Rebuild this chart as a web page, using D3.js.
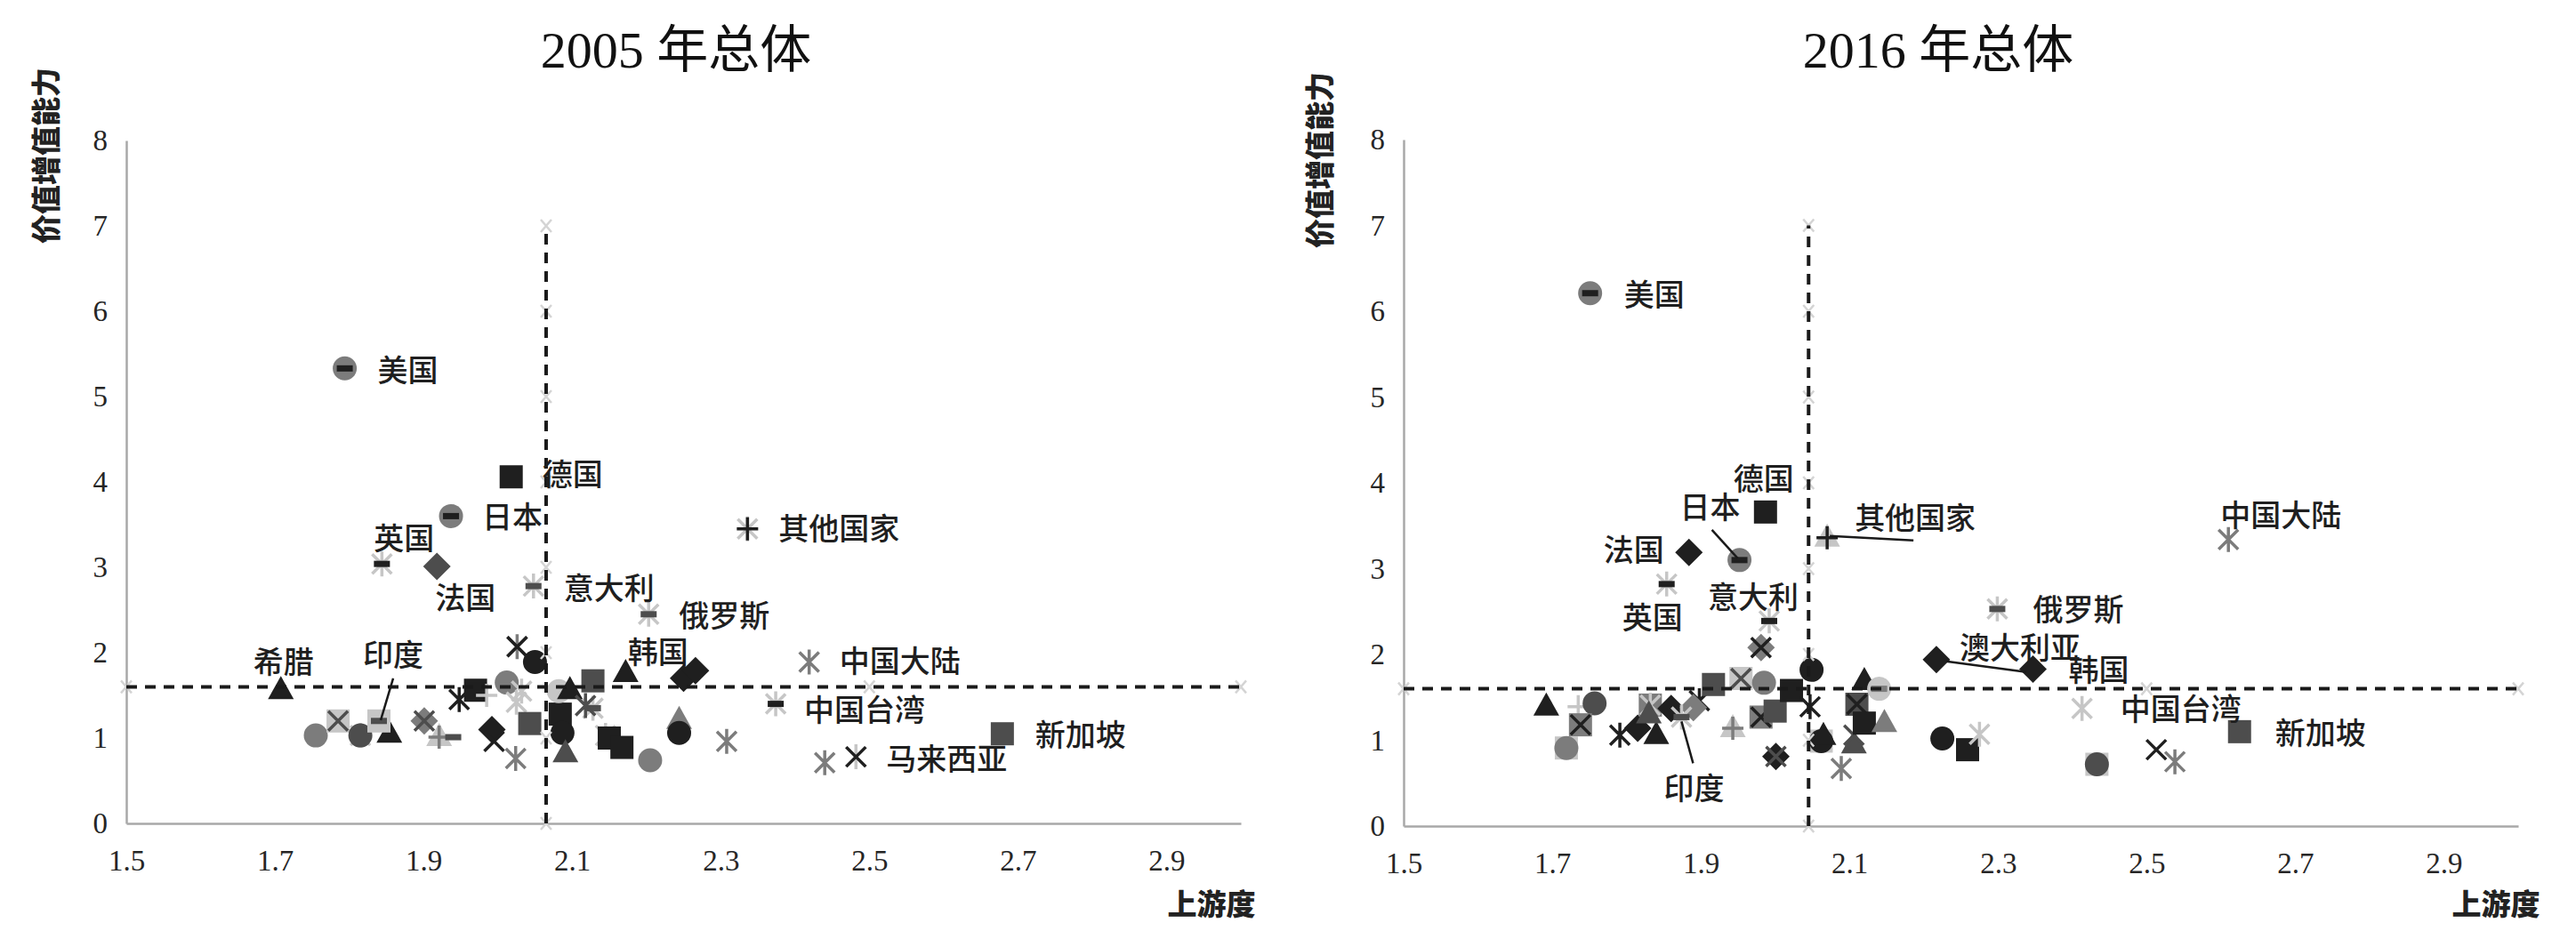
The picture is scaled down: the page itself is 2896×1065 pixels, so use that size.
<!DOCTYPE html>
<html>
<head>
<meta charset="utf-8">
<script src="https://cdn.jsdelivr.net/npm/d3@7"></script>
<style>
body{margin:0;background:#fff}
</style>
</head>
<body>
<script>
// axis ticks
var xTicks = [1.5, 1.7, 1.9, 2.1, 2.3, 2.5, 2.7, 2.9];
var yTicks = [0, 1, 2, 3, 4, 5, 6, 7, 8];

// 2005 - labelled economies
var names05 = ["美国","德国","日本","英国","法国","意大利","其他国家","俄罗斯","韩国","中国大陆","中国台湾","新加坡","马来西亚","希腊","印度"];
var up05 = [1.794, 2.018, 1.937, 1.844, 1.918, 2.048, 2.336, 2.203, 2.266, 2.419, 2.374, 2.679, 2.482, 1.708, 1.840];
var va05 = [5.33, 4.06, 3.60, 3.04, 3.01, 2.78, 3.45, 2.45, 1.79, 1.89, 1.40, 1.05, 0.78, 1.56, 1.20];
var mk05 = ["oM -K","sK","oM -K","*L -K","dD","*L -D","*L +K","*L -D","dK","*M","*L -K","sD","*L xK","^K","sL -D"];
// 2005 - other economies
var upO05 = [1.755,1.785,1.815,1.854,1.901,1.921,1.940,1.948,1.970,1.985,2.012,2.026,2.050,2.025,2.032,1.992,1.995,2.024,2.043,2.084,2.087,2.091,2.082,2.097,2.128,2.128,2.118,2.145,2.150,2.167,2.172,2.205,2.244,2.244,2.250,2.308,2.440];
var vaO05 = [1.03,1.20,1.03,1.05,1.20,1.01,1.01,1.45,1.56,1.50,1.65,2.07,1.89,1.42,1.55,1.10,0.96,0.76,1.17,1.28,1.06,0.82,1.55,1.56,1.67,1.35,1.38,1.03,1.00,0.89,1.76,0.74,1.21,1.06,1.70,0.96,0.71];
var mkO05 = ["oM","sL xD","*L oD","^K","dM xD","^L +M","-D","*K","sK","+L","oM","*M xK","oK","*L","*L","dK","xK","*M","sD","sK","oK","^D","oL","^K","sD","*L -D","*D","*L","sK","sK","^K","oM","^M","oK","dK","*M","*M"];

// 2016 - labelled economies
var names16 = ["美国","德国","日本","法国","英国","意大利","其他国家","中国大陆","俄罗斯","澳大利亚","韩国","中国台湾","新加坡","印度"];
var up16 = [1.751, 1.987, 1.952, 1.884, 1.854, 1.992, 2.070, 2.610, 2.299, 2.217, 2.347, 2.413, 2.625, 1.874];
var va16 = [6.21, 3.66, 3.10, 3.19, 2.82, 2.39, 3.36, 3.34, 2.53, 1.94, 1.83, 1.37, 1.10, 1.27];
var mk16 = ["oM -K","sK","oM -K","dK","*L -K","*L -K","^L +K","*M","*L -D","dK","dK","*L","sD","*L -D"];
// 2016 - other economies
var upO16 = [1.692,1.735,1.757,1.738,1.719,1.791,1.815,1.840,1.832,1.830,1.860,1.898,1.890,1.917,1.954,1.985,1.981,1.943,1.981,2.000,2.001,2.022,2.049,2.047,2.062,2.065,2.089,2.106,2.106,2.110,2.120,2.140,2.120,2.147,2.225,2.259,2.275,2.433,2.513,2.538];
var vaO16 = [1.39,1.39,1.43,1.18,0.91,1.06,1.14,1.06,1.41,1.30,1.37,1.46,1.38,1.65,1.72,1.67,2.08,1.14,1.27,1.34,0.81,1.58,1.82,1.39,0.99,1.05,0.67,0.95,1.06,1.42,1.69,1.60,1.20,1.20,1.02,0.89,1.07,0.72,0.89,0.75];
var mkO16 = ["^K","+L","oD","sM xK","sL oM","*K","dK","^K","sM *L","^D","dK","*K","dM","sD","sL xD","oM","dM xK","^L +M","sM xK","sD","dK xD","sK","oK","*K","sL oK","^K","*M","^D","xD","sD xK","^K","oL -M","sK","^M","oK","sK","*L","sL oD","xK","*M"];

// label offsets (px from the point) and leader lines
var lab05 = [[71,0],[69,-5],[69,-1],[25,-31],[32,33],[85,0],[103,-2],[85,0],[-42,-23],[102,-3],[100,5],[88,-1],[102,0],[3,-34],[16,-76]];
var lead05 = {"印度": [[16,-48],[2,-1]]};
var lab16 = [[72,0],[-2,-39],[-33,-61],[-62,-5],[-16,36],[-18,-29],[99,-24],[59,-29],[91,-1],[94,-15],[74,-1],[111,-1],[91,0],[14,78]];
var lead16 = {"日本": [[-31,-34],[-2,-2]], "其他国家": [[3,-2],[97,3]], "澳大利亚": [[11,2],[101,14]], "印度": [[0,5],[13,52]]};

var tone = {K: "#1f1f1f", D: "#4d4d4d", M: "#7c7c7c", L: "#c6c6c6"};

var W = 2896, H = 1065;
var svg = d3.select("body").append("svg")
  .attr("width", W).attr("height", H)
  .style("background", "#fff");

function markPath(shape) {
  var p = d3.path();
  if (shape == "o") { p.arc(0, 0, 13.5, 0, 2 * Math.PI); }
  else if (shape == "s") { p.rect(-13, -13, 26, 26); }
  else if (shape == "^") { p.moveTo(0, -16); p.lineTo(14.5, 10); p.lineTo(-14.5, 10); p.closePath(); }
  else if (shape == "d") { p.moveTo(0, -15.5); p.lineTo(15.5, 0); p.lineTo(0, 15.5); p.lineTo(-15.5, 0); p.closePath(); }
  else if (shape == "-") { p.rect(-9, -3.5, 18, 7); }
  else if (shape == "x") { p.moveTo(-11, -11); p.lineTo(11, 11); p.moveTo(11, -11); p.lineTo(-11, 11); }
  else if (shape == "*") { p.moveTo(-11, -11); p.lineTo(11, 11); p.moveTo(11, -11); p.lineTo(-11, 11); p.moveTo(0, -14); p.lineTo(0, 14); }
  else if (shape == "+") { p.moveTo(-12, 0); p.lineTo(12, 0); p.moveTo(0, -13); p.lineTo(0, 13); }
  return p.toString();
}

function drawMarks(g, ux, vy, mks, xs, ys) {
  ux.forEach(function(d, i) {
    mks[i].split(" ").forEach(function(code) {
      var sh = code[0], col = tone[code[1]];
      var stroked = (sh == "x" || sh == "*" || sh == "+");
      g.append("path")
        .attr("d", markPath(sh))
        .attr("transform", "translate(" + xs(d) + "," + ys(vy[i]) + ")")
        .attr("fill", stroked ? "none" : col)
        .attr("stroke", stroked ? col : "none")
        .attr("stroke-width", 3.5);
    });
  });
}

function chart(c) {
  var g = svg.append("g");
  var xs = d3.scaleLinear().domain([1.5, 3]).range([c.x0, c.x1]);
  var ys = d3.scaleLinear().domain([0, 8]).range([c.y0, c.y1]);

  var ax = g.append("g").attr("transform", "translate(0," + c.y0 + ")")
    .call(d3.axisBottom(xs).tickValues(xTicks).tickSize(0).tickSizeOuter(0).tickPadding(30).tickFormat(d3.format(".1f")));
  var ay = g.append("g").attr("transform", "translate(" + c.x0 + ",0)")
    .call(d3.axisLeft(ys).tickValues(yTicks).tickSize(0).tickSizeOuter(0).tickPadding(21).tickFormat(d3.format("d")));
  [ax, ay].forEach(function(a) {
    a.select(".domain").attr("stroke", "#a8a8a8").attr("stroke-width", 2.5);
    a.selectAll("text").attr("font-family", "Liberation Serif").attr("font-size", 33).attr("fill", "#262626");
  });

  // title and axis titles
  g.append("text").attr("x", c.tx).attr("y", 56)
    .attr("text-anchor", "middle").attr("dominant-baseline", "central")
    .attr("font-family", "Liberation Serif, Noto Sans CJK SC").attr("font-size", 58).attr("fill", "#111")
    .text(c.title);
  g.append("text").attr("transform", "translate(" + c.yl + "," + c.ylY + ") rotate(-90)")
    .attr("text-anchor", "middle").attr("dominant-baseline", "central")
    .attr("font-family", "Noto Sans CJK SC").attr("font-weight", 900).attr("font-size", 33).attr("fill", "#222")
    .text("价值增值能力");
  g.append("text").attr("x", c.xl).attr("y", c.xlY)
    .attr("text-anchor", "middle").attr("dominant-baseline", "central")
    .attr("font-family", "Noto Sans CJK SC").attr("font-weight", 900).attr("font-size", 33).attr("fill", "#222")
    .text("上游度");

  drawMarks(g, c.ox, c.oy, c.omk, xs, ys);
  drawMarks(g, c.ux, c.vy, c.mk, xs, ys);

  // faint helper points of the dashed reference lines
  var helpV = [0, 1, 2, 3, 4, 5, 6, 7], helpH = [1.5, 2.5, 3.0];
  helpV.forEach(function(v) {
    g.append("path").attr("d", "M-6,-7L0,0L-6,7M6,-7L0,0L6,7")
      .attr("transform", "translate(" + xs(c.vx) + "," + ys(v) + ")")
      .attr("fill", "none").attr("stroke", "#d4d4d4").attr("stroke-width", 2.5);
  });
  helpH.forEach(function(v) {
    g.append("path").attr("d", "M-6,-7L0,0L-6,7M6,-7L0,0L6,7")
      .attr("transform", "translate(" + xs(v) + "," + ys(c.hy) + ")")
      .attr("fill", "none").attr("stroke", "#d4d4d4").attr("stroke-width", 2.5);
  });

  // dashed reference lines
  g.append("line").attr("x1", xs(c.vx)).attr("x2", xs(c.vx)).attr("y1", ys(0)).attr("y2", ys(7))
    .attr("stroke", "#1a1a1a").attr("stroke-width", 4).attr("stroke-dasharray", "12,9");
  g.append("line").attr("x1", xs(1.5)).attr("x2", xs(3)).attr("y1", ys(c.hy)).attr("y2", ys(c.hy))
    .attr("stroke", "#1a1a1a").attr("stroke-width", 4).attr("stroke-dasharray", "12,9");

  // leader lines and labels
  c.names.forEach(function(n, i) {
    var px = xs(c.ux[i]), py = ys(c.vy[i]);
    if (c.lead[n]) {
      var l = c.lead[n];
      g.append("line").attr("x1", px + l[0][0]).attr("y1", py + l[0][1])
        .attr("x2", px + l[1][0]).attr("y2", py + l[1][1])
        .attr("stroke", "#1a1a1a").attr("stroke-width", 2.5);
    }
    g.append("text").attr("x", px + c.lab[i][0]).attr("y", py + c.lab[i][1])
      .attr("text-anchor", "middle").attr("dominant-baseline", "central")
      .attr("font-family", "Noto Sans CJK SC").attr("font-weight", 500).attr("font-size", 34).attr("fill", "#1f1f1f")
      .text(n);
  });
}

chart({x0: 142, x1: 1395, y0: 926, y1: 158, vx: 2.065, hy: 1.6,
  title: "2005 年总体", tx: 760, yl: 50, ylY: 175, xl: 1362, xlY: 1015,
  names: names05, ux: up05, vy: va05, mk: mk05, lab: lab05, lead: lead05,
  ox: upO05, oy: vaO05, omk: mkO05});
chart({x0: 1578, x1: 2831, y0: 929, y1: 157, vx: 2.045, hy: 1.6,
  title: "2016 年总体", tx: 2179, yl: 1482, ylY: 180, xl: 2806, xlY: 1015,
  names: names16, ux: up16, vy: va16, mk: mk16, lab: lab16, lead: lead16,
  ox: upO16, oy: vaO16, omk: mkO16});
</script>
</body>
</html>
